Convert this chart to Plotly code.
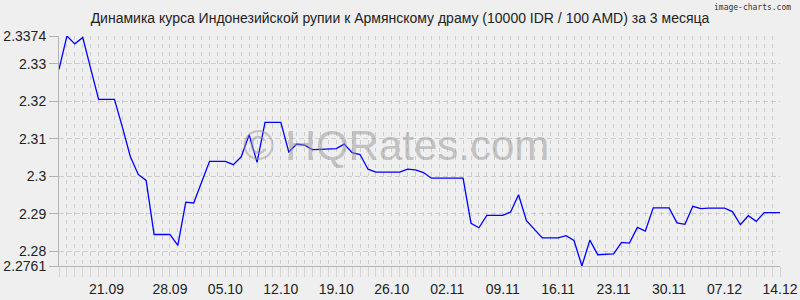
import plotly.graph_objects as go

# Daily rate values (10000 IDR / 100 AMD)
rates = [
    2.3285, 2.3374, 2.3353, 2.3370, 2.3287, 2.3205, 2.3205, 2.3205, 2.3131, 2.3053,
    2.3005, 2.2989, 2.2845, 2.2845, 2.2845, 2.2816, 2.2931, 2.2929, 2.2984, 2.3040,
    2.3040, 2.3040, 2.3031, 2.3052, 2.3111, 2.3037, 2.3144, 2.3144, 2.3144, 2.3065,
    2.3086, 2.3083, 2.3071, 2.3072, 2.3072, 2.3074, 2.3086, 2.3063, 2.3058, 2.3019,
    2.3011, 2.3011, 2.3011, 2.3011, 2.3019, 2.3017, 2.3010, 2.2995, 2.2995, 2.2995,
    2.2995, 2.2995, 2.2875, 2.2863, 2.2896, 2.2896, 2.2896, 2.2905, 2.2951, 2.2882,
    2.2859, 2.2836, 2.2836, 2.2836, 2.2842, 2.2829, 2.2761, 2.2830, 2.2791, 2.2791,
    2.2793, 2.2824, 2.2822, 2.2864, 2.2854, 2.2916, 2.2916, 2.2916, 2.2876, 2.2872,
    2.2920, 2.2914, 2.2915, 2.2915, 2.2915, 2.2906, 2.2871, 2.2895, 2.2880, 2.2903,
    2.2903, 2.2903,
]
day_index = list(range(len(rates)))

x_tick_index = [6, 14, 21, 28, 35, 42, 49, 56, 63, 70, 77, 84, 91]
x_tick_labels = ["21.09", "28.09", "05.10", "12.10", "19.10", "26.10", "02.11",
                 "09.11", "16.11", "23.11", "30.11", "07.12", "14.12"]

y_tick_values = [2.2761, 2.28, 2.29, 2.30, 2.31, 2.32, 2.33, 2.3374]
y_tick_labels = ["2.2761", "2.28", "2.29", "2.3", "2.31", "2.32", "2.33", "2.3374"]

title_text = "Динамика курса Индонезийской рупии к Армянскому драму (10000 IDR / 100 AMD) за 3 месяца"

BG = "#efefef"
GRID = "#cdcdcd"
AXIS = "#b4b4b4"
FONT = "Liberation Sans, Arial, sans-serif"

fig = go.Figure()
fig.add_trace(go.Scatter(
    x=day_index, y=rates, mode="lines",
    line=dict(color="#0000ff", width=1.3),
    hoverinfo="skip", showlegend=False,
))

fig.update_layout(
    width=800, height=300,
    margin=dict(l=59, r=20, t=36, b=34, autoexpand=False),
    paper_bgcolor=BG, plot_bgcolor=BG,
    font=dict(family=FONT, size=14, color="#222222"),
    title=dict(text=title_text, x=0.5, xanchor="center", y=1 - 18.5 / 300,
               yanchor="middle", font=dict(family=FONT, size=14, color="#222222"),
               automargin=False),
    showlegend=False,
)

fig.update_xaxes(
    range=[0, len(rates) - 1], automargin=False,
    tickmode="array", tickvals=x_tick_index, ticktext=x_tick_labels,
    showgrid=True, gridcolor=GRID, griddash="4px,4px", gridwidth=1,
    ticks="outside", ticklen=10, tickcolor="#d4d4d4",
    minor=dict(dtick=1, tick0=0, showgrid=True, gridcolor=GRID,
               griddash="4px,4px", gridwidth=1,
               ticks="outside", ticklen=10, tickcolor="#d4d4d4"),
    showline=True, linecolor=AXIS, linewidth=1,
    zeroline=False, fixedrange=True,
    tickfont=dict(family=FONT, size=14, color="#222222"),
)

fig.update_yaxes(
    range=[y_tick_values[0], y_tick_values[-1]], automargin=False,
    tickmode="array", tickvals=y_tick_values, ticktext=y_tick_labels,
    showgrid=True, gridcolor=GRID, griddash="5px,3px", gridwidth=1,
    ticks="outside", ticklen=9, tickcolor=AXIS,
    showline=True, linecolor=AXIS, linewidth=1,
    zeroline=False, fixedrange=True,
    tickfont=dict(family=FONT, size=14, color="#222222"),
)

# Watermark
fig.add_annotation(
    text="© HQRates.com", xref="paper", yref="paper",
    x=(396 - 59) / 721, y=1 - (145 - 36) / 230,
    xanchor="center", yanchor="middle", showarrow=False,
    font=dict(family=FONT, size=42, color="rgba(150,150,150,0.5)"),
)

# Generator credit
fig.add_annotation(
    text="image-charts.com", xref="paper", yref="paper",
    x=1 + 13 / 721, y=1 + (36 - 7) / 230,
    xanchor="right", yanchor="middle", showarrow=False,
    font=dict(family="DejaVu Sans Mono, monospace", size=8, color="#333333"),
)

fig.write_html("out.html")
